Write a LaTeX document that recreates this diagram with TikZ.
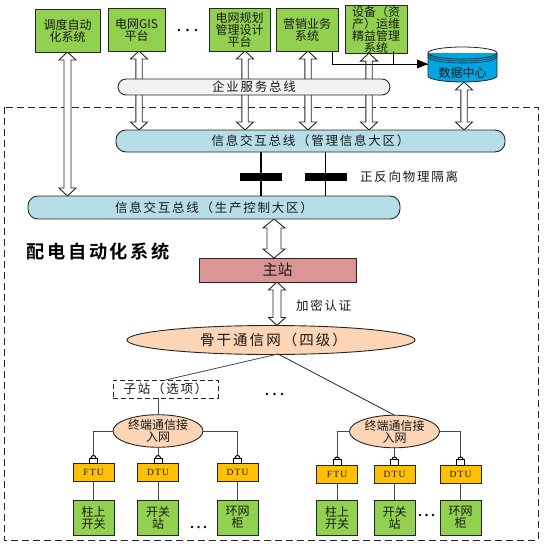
\documentclass[tikz,border=0pt]{standalone}
\usepackage{fontspec}
\setmainfont{Liberation Serif}
\newfontfamily\cjk{Noto Sans CJK SC}
\newfontfamily\cjksp[LetterSpace=14]{Noto Sans CJK SC}
\newfontfamily\cjkbf[LetterSpace=14,BoldFont={Noto Sans CJK SC Bold}]{Noto Sans CJK SC}
\newfontfamily\serifsp[LetterSpace=12]{Liberation Serif}
\usetikzlibrary{calc,backgrounds,shapes.geometric}
\definecolor{gboxb}{HTML}{92D050}
\definecolor{busblue}{HTML}{B7DDE8}
\definecolor{ebus}{HTML}{F2F2F2}
\definecolor{mainred}{HTML}{D99694}
\definecolor{peach}{HTML}{FBD5B5}
\definecolor{amber}{HTML}{FFC000}
\definecolor{dcblue}{HTML}{00A6E2}
\definecolor{edge}{HTML}{262626}
\tikzset{
  base/.style={draw=edge,line width=0.9pt,inner sep=0pt,outer sep=0pt,align=center,text=black!90},
  greenbox/.style={base,fill=gboxb,font=\cjk\fontsize{12}{12}\selectfont},
  busbar/.style={base,fill=busblue,font=\cjksp\fontsize{12.5}{14}\selectfont,rounded corners=10pt},
  ubox/.style={base,fill=amber,minimum width=41pt,minimum height=18pt,font=\serifsp\fontsize{9.5}{11}\selectfont},
  leafbox/.style={base,fill=gboxb,minimum width=41pt,minimum height=35pt,font=\cjk\fontsize{12}{12}\selectfont},
  accessnet/.style={base,shape=ellipse,fill=peach,minimum width=90pt,minimum height=28pt,font=\cjk\fontsize{12}{12}\selectfont},
  link/.style={draw=edge!85,line width=0.8pt},
  sep/.style={draw=black,line width=1.8pt},
  dashbox/.style={draw=edge,line width=0.8pt,dash pattern=on 7pt off 4pt},
  hollow/.style n args={3}{draw=edge,line width=0.9pt,fill=white,line join=miter,
    to path={let \p1=(\tikztostart),\p2=(\tikztotarget) in
      (\x1,\y1) -- ({\x1+#2},{\y1-#3}) -- ({\x1+#1},{\y1-#3}) -- ({\x1+#1},{\y2+#3}) -- ({\x1+#2},{\y2+#3})
      -- (\x1,\y2) -- ({\x1-#2},{\y2+#3}) -- ({\x1-#1},{\y2+#3}) -- ({\x1-#1},{\y1-#3}) -- ({\x1-#2},{\y1-#3}) -- cycle}},
  lockbody/.style={draw=black,fill=white,line width=0.9pt,inner sep=0pt,minimum width=8pt,minimum height=5.5pt},
  plain/.style={inner sep=0pt,outer sep=0pt,text=black!90}
}
\newcommand{\dotrow}[3]{\foreach \k in {0,1,2}{\fill[black] ({#1+\k*#3},#2) circle[radius=1.3pt];}}
\begin{document}
\begin{tikzpicture}[x=1pt,y=-1pt]
\useasboundingbox (0,0) rectangle (545,546);
% top systems
\node[greenbox,minimum width=65pt,minimum height=43pt] (g1) at (67.5,30.5) {调度自动\\化系统};
\node[greenbox,minimum width=57pt,minimum height=43pt] (g2) at (136.5,29.5) {电网GIS\\平台};
\node[greenbox,minimum width=61pt,minimum height=43pt] (g3) at (239.5,29.5) {电网规划\\管理设计\\平台};
\node[greenbox,minimum width=62pt,minimum height=43pt] (g4) at (307,29.5) {营销业务\\系统};
\node[greenbox,minimum width=62pt,minimum height=44pt] (g5) at (376,29.5) {设备（资\\产）运维\\精益管理\\系统};
% data centre
\fill[dcblue] (428,53) -- (428,76) arc[start angle=180,end angle=360,x radius=34.5pt,y radius=6pt] -- (497,53) -- cycle;
\draw[edge,line width=0.8pt] (428,53) -- (428,76) arc[start angle=180,end angle=360,x radius=34.5pt,y radius=6pt] -- (497,53);
\draw[edge,line width=0.8pt] (462.5,53) ellipse[x radius=34.5pt,y radius=6pt];
\draw[edge,line width=0.6pt] (428,55) arc[start angle=180,end angle=360,x radius=34.5pt,y radius=6pt];
\draw[edge,line width=0.6pt] (428,57) arc[start angle=180,end angle=360,x radius=34.5pt,y radius=6pt];
\node[inner sep=0pt,outer sep=0pt,minimum width=69pt,minimum height=35pt] (dc) at (462.5,64.5) {};
\node[plain,font=\cjk\fontsize{12}{12}\selectfont] (dctext) at (462.5,73) {数据中心};
% buses
\node[busbar,fill=ebus,minimum width=272pt,minimum height=16pt,rounded corners=8pt] (ebusn) at (254,87) {企业服务总线};
\node[busbar,minimum width=389pt,minimum height=22pt] (mg) at (310.5,141) {信息交互总线（管理信息大区）};
\node[busbar,minimum width=372pt,minimum height=23pt] (pr) at (214,207.5) {信息交互总线（生产控制大区）};
% isolators
\node[fill=black,inner sep=0pt,outer sep=0pt,minimum width=42pt,minimum height=7.5pt] (iso1) at (261,177) {};
\node[fill=black,inner sep=0pt,outer sep=0pt,minimum width=42pt,minimum height=7.5pt] (iso2) at (325.5,177) {};
\draw[sep] (mg.south -| iso1.north) -- (iso1.north);
\draw[sep] (iso1.south) -- (pr.north -| iso1.south);
\draw[sep] (mg.south -| iso2.north) -- (iso2.north);
\draw[sep] (iso2.south) -- (pr.north -| iso2.south);
\node[plain,font=\cjksp\fontsize{12.5}{14}\selectfont,anchor=west] (isol) at (360,177) {正反向物理隔离};
% main
\node[plain,font=\cjkbf\fontsize{18.2}{20}\bfseries\selectfont,anchor=west,text=black] (title) at (27,252) {配电自动化系统};
\node[base,fill=mainred,minimum width=157pt,minimum height=24pt,font=\cjk\fontsize{15}{17}\selectfont] (mainst) at (277.5,270) {主站};
\node[plain,font=\cjksp\fontsize{12.5}{14}\selectfont,anchor=west] (enc) at (296,306) {加密认证};
\node[base,shape=ellipse,fill=peach,minimum width=288pt,minimum height=29pt,font=\cjksp\fontsize{14.5}{16}\selectfont] (bk) at (271,340) {\hspace*{5pt}骨干通信网（四级）};
\node[base,dashbox,fill=white,minimum width=105pt,minimum height=18pt,dash pattern=on 5pt off 3pt,font=\cjksp\fontsize{12.5}{14}\selectfont] (sub) at (165.5,389) {子站（选项）};
\coordinate (bkb) at (278,354);
\draw[link] (bkb) -- (sub.north);
% access groups
\node[accessnet] (e1) at (158,431) {终端通信接\\入网};
\node[accessnet] (e2) at (394.5,431.5) {终端通信接\\入网};
\draw[link,edge] (bkb) -- (e2.north);
\draw[link] (sub.south -| e1.north) -- (e1.north);
\node[ubox] (f1) at (93.5,472.5) {FTU};
\node[ubox] (f2) at (158,472.5) {DTU};
\node[ubox] (f3) at (237.5,472.5) {DTU};
\node[ubox] (f4) at (337,474) {FTU};
\node[ubox] (f5) at (394.5,474) {DTU};
\node[ubox] (f6) at (460.5,474) {DTU};
\node[leafbox] (l1) at (93.5,517.5) {柱上\\开关};
\node[leafbox] (l2) at (158,517.5) {开关\\站};
\node[leafbox] (l3) at (237.5,517.5) {环网\\柜};
\node[leafbox] (l4) at (337,517.5) {柱上\\开关};
\node[leafbox] (l5) at (394.5,517.5) {开关\\站};
\node[leafbox] (l6) at (460.5,517.5) {环网\\柜};
\draw[link] (e1.west) -| (f1.north);
\draw[link] (e1.south) -- (f2.north);
\draw[link] (e1.east) -| (f3.north);
\draw[link] (e2.west) -| (f4.north);
\draw[link] (e2.south) -- (f5.north);
\draw[link] (e2.east) -| (f6.north);
\foreach \u/\v in {f1/l1,f2/l2,f3/l3,f4/l4,f5/l5,f6/l6}{\draw[link] (\u.south) -- (\v.north);}
% locks
\foreach \u in {f1,f2,f3,f4,f5,f6}{
  \fill[white] ([xshift=-2.5pt,yshift=5pt]\u.north) rectangle ([xshift=2.5pt,yshift=8pt]\u.north);
  \draw[black,line width=1pt] ([xshift=-2.5pt,yshift=5.5pt]\u.north) arc[start angle=180,end angle=0,radius=2.5pt];
  \node[lockbody,anchor=south] (lock\u) at ([yshift=-0.5pt]\u.north) {};
}
% dots
\dotrow{179}{30}{8.5}
\dotrow{267}{394}{7.5}
\dotrow{192}{527}{6.5}
\dotrow{420}{515}{6.5}
% data link
\coordinate (j5) at (393,64);
\draw[line width=0.8pt,black] (332,51) |- (dc.west);
\draw[line width=0.8pt,black] (393,51) -- (j5);
\fill[black] (428,64) -- (417,59.5) -- (417,68.5) -- cycle;
% hollow arrows & frame, under the buses
\begin{scope}[on background layer]
  \draw[dashbox] (4,107) rectangle (538,540);
  \coordinate (a1) at (67.5,0); \coordinate (a2) at (139,0); \coordinate (a3) at (245,0);
  \coordinate (a4) at (308,0);  \coordinate (a5) at (369,0); \coordinate (a6) at (464,0);
  \coordinate (a7) at (274,0);  \coordinate (a8) at (277,0);
  \path[hollow={3.5pt}{8.5pt}{8pt}] (a1 |- g1.south) to (a1 |- pr.north);
  \path[hollow={3.2pt}{8.5pt}{8pt}] (a2 |- g2.south) to (a2 |- mg.north);
  \path[hollow={3.2pt}{8.5pt}{8pt}] (a3 |- g3.south) to (a3 |- mg.north);
  \path[hollow={3.2pt}{8.5pt}{8pt}] (a4 |- g4.south) to (a4 |- mg.north);
  \path[hollow={3.2pt}{8.5pt}{8pt}] (a5 |- g5.south) to (a5 |- mg.north);
  \path[hollow={3.2pt}{8.5pt}{8pt}] (a6 |- dc.south) to (a6 |- mg.north);
  \path[hollow={7pt}{11pt}{9pt}] (a7 |- pr.south) to (a7 |- mainst.north);
  \path[hollow={4pt}{8.5pt}{8pt}] (a8 |- mainst.south) to (a8 |- bk.north);
\end{scope}
\end{tikzpicture}
\end{document}
